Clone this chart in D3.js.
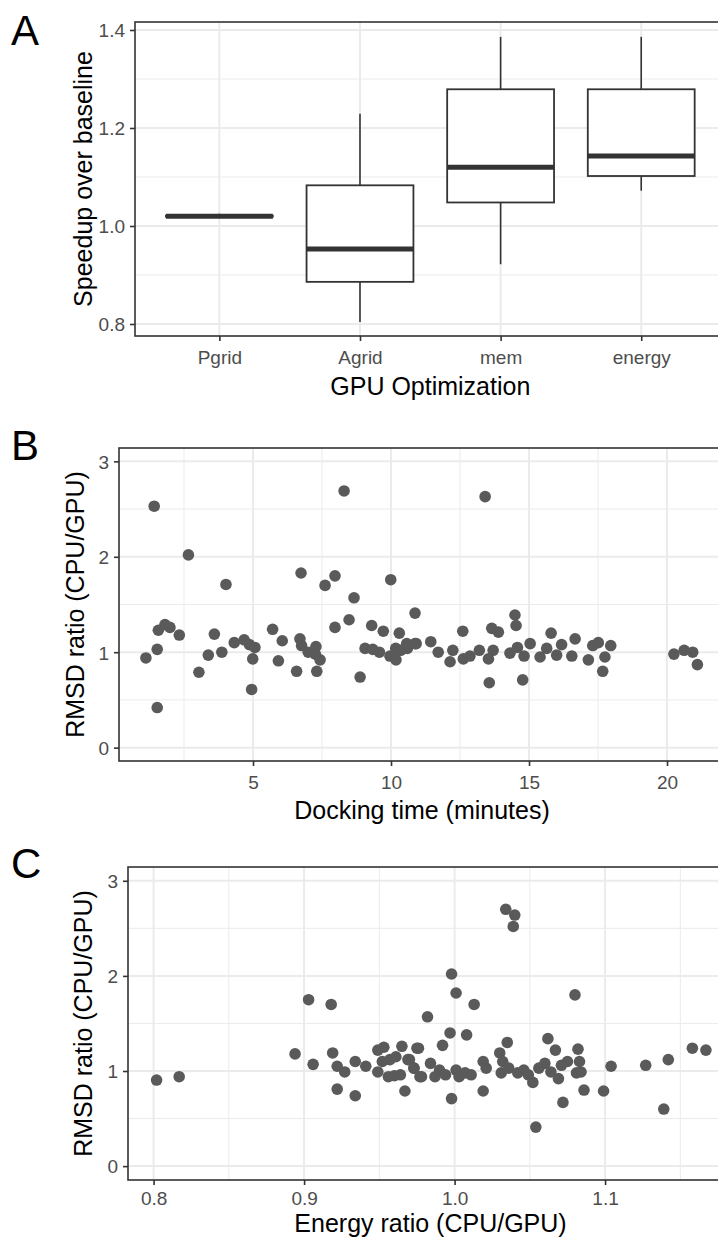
<!DOCTYPE html>
<html>
<head>
<meta charset="utf-8">
<script src="https://cdn.jsdelivr.net/npm/d3@7"></script>
<style>
  body { margin: 0; background: #fff; }
  svg { display: block; }
  text { font-family: "Liberation Sans", Arial, Helvetica, sans-serif; }
</style>
</head>
<body>
<div id="chart"></div>
<script>
// Panel A: speedup per GPU optimization (box summaries)
const categories = ["Pgrid", "Agrid", "mem", "energy"];
const whiskerLow = [1.016, 0.804, 0.922, 1.072];
const q1 = [1.019, 0.886, 1.048, 1.102];
const median = [1.020, 0.953, 1.120, 1.143];
const q3 = [1.021, 1.083, 1.279, 1.279];
const whiskerHigh = [1.025, 1.229, 1.386, 1.386];
const speedupTicks = [0.8, 1.0, 1.2, 1.4];
const speedupMinor = [0.9, 1.1, 1.3];

// Panel B: docking time vs RMSD ratio
const dockTime = [1.12, 1.42, 1.53, 1.53, 1.57, 1.81, 1.99, 2.33, 2.66, 3.04,
  3.38, 3.60, 3.87, 4.02, 4.32, 4.68, 4.87, 5.07, 4.99, 4.95,
  5.71, 6.06, 5.92, 6.58, 6.74, 6.70, 6.76, 7.00, 7.28, 7.43,
  7.31, 7.26, 7.61, 7.97, 8.30, 7.97, 8.66, 8.48, 8.88, 9.06,
  9.30, 9.34, 9.58, 9.72, 9.99, 9.96, 10.18, 10.17, 10.30, 10.35,
  10.59, 10.87, 10.87, 10.57, 10.91, 11.44, 11.71, 12.14, 12.24, 12.60,
  12.62, 12.86, 13.20, 13.41, 13.53, 13.56, 13.65, 13.89, 13.70, 14.31,
  14.49, 14.53, 14.58, 14.82, 14.77, 15.04, 15.40, 15.64, 15.80, 16.00,
  16.18, 16.55, 16.67, 17.15, 17.31, 17.51, 17.67, 17.75, 17.96, 20.25,
  20.62, 20.93, 21.10];
const dockRmsd = [0.94, 2.53, 1.03, 0.42, 1.23, 1.29, 1.26, 1.18, 2.02, 0.79,
  0.97, 1.19, 1.00, 1.71, 1.10, 1.13, 1.08, 1.05, 0.93, 0.61,
  1.24, 1.12, 0.91, 0.80, 1.83, 1.14, 1.07, 1.00, 1.06, 0.92,
  0.80, 0.98, 1.70, 1.80, 2.69, 1.26, 1.57, 1.34, 0.74, 1.04,
  1.28, 1.03, 1.00, 1.22, 1.76, 0.96, 0.92, 1.04, 1.20, 1.02,
  1.04, 1.41, 1.09, 1.09, 1.09, 1.11, 1.00, 0.90, 1.02, 1.22,
  0.93, 0.96, 1.02, 2.63, 0.93, 0.68, 1.25, 1.21, 1.02, 0.99,
  1.39, 1.28, 1.05, 0.96, 0.71, 1.09, 0.95, 1.04, 1.20, 0.97,
  1.08, 0.96, 1.14, 0.92, 1.07, 1.10, 0.80, 0.95, 1.07, 0.98,
  1.02, 1.00, 0.87];
const timeTicks = [5, 10, 15, 20];
const timeMinor = [2.5, 7.5, 12.5, 17.5];

// Panel C: energy ratio vs RMSD ratio
const energyRatio = [0.802, 0.817, 0.894, 0.903, 0.906, 0.918, 0.919, 0.922, 0.927, 0.922,
  0.934, 0.934, 0.941, 0.949, 0.949, 0.953, 0.952, 0.956, 0.960, 0.957,
  0.961, 0.965, 0.967, 0.969, 0.975, 0.973, 0.977, 0.964, 0.970, 0.976,
  0.973, 0.978, 0.982, 0.984, 0.987, 0.992, 0.990, 0.994, 0.997, 0.998,
  1.001, 0.998, 1.001, 1.003, 1.008, 1.007, 1.011, 1.013, 1.019, 1.021,
  1.019, 1.030, 1.031, 1.032, 1.035, 1.034, 1.040, 1.039, 1.036, 1.042,
  1.046, 1.049, 1.052, 1.054, 1.056, 1.060, 1.062, 1.064, 1.067, 1.069,
  1.071, 1.072, 1.075, 1.080, 1.082, 1.083, 1.081, 1.084, 1.086, 1.099,
  1.104, 1.127, 1.139, 1.142, 1.158, 1.167];
const energyRmsd = [0.905, 0.94, 1.18, 1.75, 1.07, 1.70, 1.19, 1.05, 0.99, 0.81,
  0.74, 1.10, 1.05, 0.99, 1.22, 1.25, 1.10, 0.94, 0.95, 1.12,
  1.15, 1.26, 0.79, 1.12, 1.24, 1.03, 0.94, 0.96, 1.12, 1.24,
  1.03, 0.94, 1.57, 1.08, 0.94, 1.27, 1.01, 0.96, 1.40, 2.02,
  1.82, 0.71, 1.01, 0.94, 1.38, 0.98, 0.96, 1.70, 1.10, 1.03,
  0.79, 1.19, 0.98, 1.10, 1.30, 2.70, 2.64, 2.52, 1.03, 0.98,
  1.01, 0.96, 0.88, 0.41, 1.03, 1.08, 1.34, 0.99, 1.22, 0.92,
  1.06, 0.67, 1.10, 1.80, 1.23, 1.10, 0.98, 0.99, 0.80, 0.79,
  1.05, 1.06, 0.60, 1.12, 1.24, 1.22];
const energyTicks = [0.8, 0.9, 1.0, 1.1];
const energyMinor = [0.85, 0.95, 1.05, 1.15];

const rmsdTicks = [0, 1, 2, 3];
const rmsdMinor = [0.5, 1.5, 2.5];

const width = 718, height = 1241;
const gridColor = "#ebebeb";
const inkColor = "#333333";
const tickTextColor = "#4d4d4d";
const pointColor = "#5a5a5a";

const svg = d3.select("#chart")
  .append("svg")
  .attr("width", width)
  .attr("height", height);

// Light grid lines (major and minor) inside a panel
function drawGrid(g, x, y, xMajor, xMinor, yMajor, yMinor) {
  const [x0, x1] = x.range();
  const [y0, y1] = y.range();
  const hLines = (vals, w) => g.append("g").selectAll("line").data(vals).join("line")
    .attr("x1", x0).attr("x2", x1)
    .attr("y1", d => y(d)).attr("y2", d => y(d))
    .attr("stroke", gridColor).attr("stroke-width", w);
  const vLines = (vals, w) => g.append("g").selectAll("line").data(vals).join("line")
    .attr("y1", y0).attr("y2", y1)
    .attr("x1", d => x(d)).attr("x2", d => x(d))
    .attr("stroke", gridColor).attr("stroke-width", w);
  hLines(yMinor, 1);
  vLines(xMinor, 1);
  hLines(yMajor, 2);
  vLines(xMajor, 2);
}

// Axes, frame and titles in ggplot theme_bw style
function drawFrame(g, x, y, opts) {
  const [x0, x1] = x.range();
  const [y0, y1] = y.range();

  const xAxis = g.append("g")
    .attr("transform", `translate(0, ${y0})`)
    .call(d3.axisBottom(x).tickValues(opts.xTicks).tickFormat(opts.xFormat)
      .tickSize(5).tickPadding(opts.xPad));
  const yAxis = g.append("g")
    .attr("transform", `translate(${x0}, 0)`)
    .call(d3.axisLeft(y).tickValues(opts.yTicks).tickFormat(opts.yFormat)
      .tickSize(5).tickPadding(5));

  [xAxis, yAxis].forEach(a => {
    a.select(".domain").remove();
    a.selectAll(".tick line").attr("stroke", inkColor).attr("stroke-width", 1.6);
    a.selectAll(".tick text")
      .attr("fill", tickTextColor)
      .style("font-size", "19px")
      .style("font-family", "'Liberation Sans', Arial, sans-serif");
  });
  xAxis.selectAll(".tick text").attr("dy", "0.9em");
  yAxis.selectAll(".tick text").attr("dy", "0.36em");

  // Panel border
  g.append("rect")
    .attr("x", x0).attr("y", y1)
    .attr("width", x1 - x0).attr("height", y0 - y1)
    .attr("fill", "none")
    .attr("stroke", inkColor)
    .attr("stroke-width", 1.6);

  // X-axis title
  g.append("text")
    .attr("x", (x0 + x1) / 2)
    .attr("y", y0 + opts.xTitleGap)
    .attr("text-anchor", "middle")
    .style("font-size", "25px")
    .attr("fill", "#000")
    .text(opts.xTitle);

  // Y-axis title
  g.append("text")
    .attr("transform", `translate(${opts.yTitleX}, ${(y0 + y1) / 2}) rotate(-90)`)
    .attr("text-anchor", "middle")
    .attr("dy", "0.35em")
    .style("font-size", "25px")
    .attr("fill", "#000")
    .text(opts.yTitle);
}

function panelLabel(label, yPos) {
  svg.append("text")
    .attr("x", 11)
    .attr("y", yPos)
    .style("font-size", "42px")
    .attr("fill", "#000")
    .text(label);
}

// ---------- Panel A ----------
const gA = svg.append("g");
const xA = d3.scalePoint().domain(categories).range([135, 725.6]).padding(0.6);
const yA = d3.scaleLinear().domain([0.7755, 1.4163]).range([336, 22]);
drawGrid(gA, xA, yA, categories, [], speedupTicks, speedupMinor);
drawFrame(gA, xA, yA, {
  xTicks: categories, yTicks: speedupTicks,
  xFormat: d => d, yFormat: d3.format(".1f"), xPad: 6,
  xTitle: "GPU Optimization", yTitle: "Speedup over baseline",
  xTitleGap: 59, yTitleX: 83
});

const boxW = xA.step() * 0.76;
const boxes = categories.map((c, i) => ({
  c, lo: whiskerLow[i], q1: q1[i], med: median[i], q3: q3[i], hi: whiskerHigh[i]
}));

const boxG = gA.append("g").selectAll("g").data(boxes).join("g");
boxG.append("line")
  .attr("x1", d => xA(d.c)).attr("x2", d => xA(d.c))
  .attr("y1", d => yA(d.q3)).attr("y2", d => yA(d.hi))
  .attr("stroke", inkColor).attr("stroke-width", 1.6);
boxG.append("line")
  .attr("x1", d => xA(d.c)).attr("x2", d => xA(d.c))
  .attr("y1", d => yA(d.q1)).attr("y2", d => yA(d.lo))
  .attr("stroke", inkColor).attr("stroke-width", 1.6);
boxG.append("rect")
  .attr("x", d => xA(d.c) - boxW / 2)
  .attr("width", boxW)
  .attr("y", d => yA(d.q3))
  .attr("height", d => yA(d.q1) - yA(d.q3))
  .attr("fill", "#fff")
  .attr("stroke", inkColor).attr("stroke-width", 1.8);
boxG.append("line")
  .attr("x1", d => xA(d.c) - boxW / 2).attr("x2", d => xA(d.c) + boxW / 2)
  .attr("y1", d => yA(d.med)).attr("y2", d => yA(d.med))
  .attr("stroke", inkColor).attr("stroke-width", 5);

panelLabel("A", 45);

// ---------- Panel B ----------
const gB = svg.append("g");
const xB = d3.scaleLinear().domain([0.145, 22.1]).range([119, 725]);
const yB = d3.scaleLinear().domain([-0.14, 3.14]).range([761, 448]);
drawGrid(gB, xB, yB, timeTicks, timeMinor, rmsdTicks, rmsdMinor);
drawFrame(gB, xB, yB, {
  xTicks: timeTicks, yTicks: rmsdTicks,
  xFormat: d3.format("d"), yFormat: d3.format("d"), xPad: 6,
  xTitle: "Docking time (minutes)", yTitle: "RMSD ratio (CPU/GPU)",
  xTitleGap: 58, yTitleX: 75
});

gB.append("g").selectAll("circle")
  .data(dockTime.map((t, i) => [t, dockRmsd[i]]))
  .join("circle")
  .attr("cx", d => xB(d[0]))
  .attr("cy", d => yB(d[1]))
  .attr("r", 5.8)
  .attr("fill", pointColor);

panelLabel("B", 460);

// ---------- Panel C ----------
const gC = svg.append("g");
const xC = d3.scaleLinear().domain([0.783, 1.185]).range([128, 733]);
const yC = d3.scaleLinear().domain([-0.146, 3.145]).range([1180, 867]);
drawGrid(gC, xC, yC, energyTicks, energyMinor, rmsdTicks, rmsdMinor);
drawFrame(gC, xC, yC, {
  xTicks: energyTicks, yTicks: rmsdTicks,
  xFormat: d3.format(".1f"), yFormat: d3.format("d"), xPad: 3,
  xTitle: "Energy ratio (CPU/GPU)", yTitle: "RMSD ratio (CPU/GPU)",
  xTitleGap: 52, yTitleX: 83
});

gC.append("g").selectAll("circle")
  .data(energyRatio.map((e, i) => [e, energyRmsd[i]]))
  .join("circle")
  .attr("cx", d => xC(d[0]))
  .attr("cy", d => yC(d[1]))
  .attr("r", 5.8)
  .attr("fill", pointColor);

panelLabel("C", 878);
</script>
</body>
</html>
